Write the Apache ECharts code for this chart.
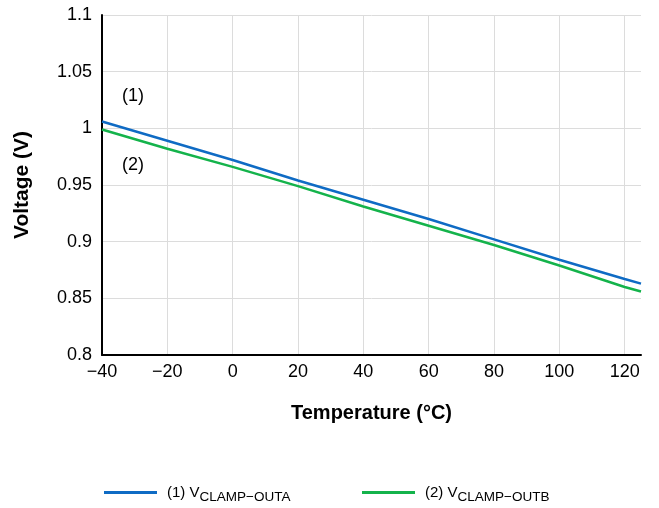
<!DOCTYPE html>
<html>
<head>
<meta charset="utf-8">
<script src="https://cdn.jsdelivr.net/npm/echarts@6/dist/echarts.min.js"></script>
<style>
  html, body { margin: 0; padding: 0; background: #fff; }
  #chart { width: 659px; height: 508px; }
</style>
</head>
<body>
<div id="chart"></div>
<script>
// temperature (°C)
const temps = [-40, -20, 0, 20, 40, 60, 80, 100, 120, 125];
// (1) VCLAMP-OUTA
const clampOutA = [1.006, 0.989, 0.972, 0.954, 0.937, 0.920, 0.902, 0.884, 0.867, 0.863];
// (2) VCLAMP-OUTB
const clampOutB = [0.999, 0.982, 0.966, 0.949, 0.931, 0.914, 0.897, 0.879, 0.860, 0.856];
const seriesNames = ['(1) VCLAMP-OUTA', '(2) VCLAMP-OUTB'];
const legendSubs = ['CLAMP\u2212OUTA', 'CLAMP\u2212OUTB'];
const legendPrefix = ['(1) V', '(2) V'];

const FONT = 'Liberation Sans, Arial, sans-serif';
const gridColor = '#dcdcdc';
const colors = ['#0f6bc4', '#14b34b'];

function pairs(ys) {
  return temps.map((t, i) => [t, ys[i]]);
}

function legendFor(i, left) {
  return {
    left: left,
    top: 481,
    padding: 0,
    itemWidth: 53,
    itemHeight: 3,
    itemGap: 10,
    icon: 'rect',
    data: [seriesNames[i]],
    formatter: () => '{a|' + legendPrefix[i] + '}{b|' + legendSubs[i] + '}',
    textStyle: {
      color: '#000',
      rich: {
        a: { fontSize: 15, fontFamily: FONT, color: '#000', lineHeight: 24, padding: [0, 0, 0, 5] },
        b: { fontSize: 13.5, fontFamily: FONT, color: '#000', lineHeight: 24, padding: [9, 0, 0, 0] }
      }
    }
  };
}

const chart = echarts.init(document.getElementById('chart'));
chart.setOption({
  animation: false,
  textStyle: { fontFamily: FONT },
  grid: { left: 102, right: 18, top: 15, bottom: 153 },
  xAxis: {
    type: 'value',
    min: -40,
    max: 125,
    interval: 20,
    name: 'Temperature (°C)',
    nameLocation: 'middle',
    nameGap: 48,
    nameTextStyle: { fontSize: 20, fontWeight: 'bold', color: '#000', fontFamily: FONT },
    axisLine: { onZero: false, lineStyle: { color: '#000', width: 2 } },
    axisTick: { show: false },
    axisLabel: {
      color: '#000', fontSize: 18, margin: 8, showMaxLabel: false,
      formatter: v => (v === 125 ? '' : String(v).replace('-', '\u2212'))
    },
    splitLine: {
      lineStyle: {
        color: [gridColor, gridColor, gridColor, gridColor, gridColor,
                gridColor, gridColor, gridColor, gridColor, 'rgba(0,0,0,0)'],
        width: 1
      }
    }
  },
  yAxis: {
    type: 'value',
    min: 0.8,
    max: 1.1,
    interval: 0.05,
    name: 'Voltage (V)',
    nameLocation: 'middle',
    nameGap: 69,
    nameTextStyle: { fontSize: 21, fontWeight: 'bold', color: '#000', fontFamily: FONT },
    axisLine: { show: true, onZero: false, lineStyle: { color: '#000', width: 2 } },
    axisTick: { show: false },
    axisLabel: { color: '#000', fontSize: 18, margin: 10 },
    splitLine: { lineStyle: { color: gridColor, width: 1 } }
  },
  legend: [legendFor(0, 104), legendFor(1, 362)],
  graphic: [
    { type: 'text', left: 122, top: 87, style: { text: '(1)', font: '18px ' + FONT, fill: '#000' } },
    { type: 'text', left: 122, top: 156, style: { text: '(2)', font: '18px ' + FONT, fill: '#000' } }
  ],
  series: [
    {
      name: seriesNames[0],
      type: 'line',
      data: pairs(clampOutA),
      showSymbol: false,
      lineStyle: { color: colors[0], width: 2.5 },
      itemStyle: { color: colors[0] }
    },
    {
      name: seriesNames[1],
      type: 'line',
      data: pairs(clampOutB),
      showSymbol: false,
      lineStyle: { color: colors[1], width: 2.5 },
      itemStyle: { color: colors[1] }
    }
  ]
});
</script>
</body>
</html>
